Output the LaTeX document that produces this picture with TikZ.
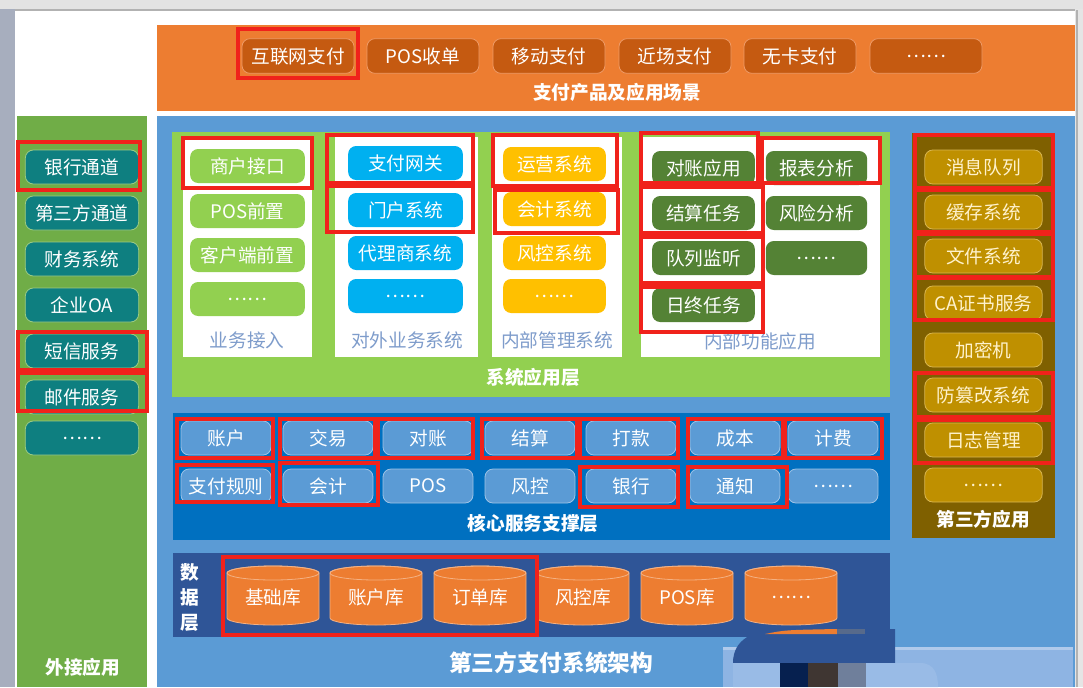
\documentclass[tikz,border=0pt]{standalone}
\usepackage{fontspec}
\setmainfont{Noto Sans CJK SC}
\usetikzlibrary{calc}
\definecolor{orgband}{HTML}{ED7D31}
\definecolor{orgbtn}{HTML}{C55A11}
\definecolor{orgbtnline}{HTML}{EE9A66}
\definecolor{extgreen}{HTML}{70AD47}
\definecolor{tealbtn}{HTML}{0E7F80}
\definecolor{tealline}{HTML}{9CCB84}
\definecolor{mainblue}{HTML}{5B9BD5}
\definecolor{sysgreen}{HTML}{92D050}
\definecolor{cyanbtn}{HTML}{00B0F0}
\definecolor{goldbtn}{HTML}{FFC000}
\definecolor{dgreenbtn}{HTML}{548235}
\definecolor{panellabel}{HTML}{7E9CCB}
\definecolor{coreband}{HTML}{0070C0}
\definecolor{corebtn}{HTML}{5B9BD5}
\definecolor{corebtnline}{HTML}{9DC3E6}
\definecolor{databand}{HTML}{2F5597}
\definecolor{cylfill}{HTML}{ED7D31}
\definecolor{cylline}{HTML}{F4B183}
\definecolor{thirdband}{HTML}{7F6000}
\definecolor{thirdbtn}{HTML}{BF9000}
\definecolor{thirdbtnline}{HTML}{D9B650}
\definecolor{thirdtext}{HTML}{FFF2CC}
\definecolor{hlred}{HTML}{F0221B}
\definecolor{edgegray}{HTML}{A7AEBE}
\definecolor{artlight}{HTML}{8EB4E3}
\definecolor{artdark}{HTML}{06204F}
\definecolor{artbrown}{HTML}{3F3632}
\definecolor{artgray}{HTML}{6F7F9B}
\tikzset{
  btn/.style={rounded corners=6pt, inner sep=0pt, minimum height=25.5pt,
    text=white, font=\fontsize{14}{16}\selectfont, line width=0.6pt},
  topbtn/.style={btn, fill=orgbtn, draw=orgbtnline, minimum width=84pt, minimum height=26pt},
  extbtn/.style={btn, fill=tealbtn, draw=tealline, minimum width=85pt},
  accbtn/.style={btn, fill=sysgreen, minimum width=86pt},
  outbtn/.style={btn, fill=cyanbtn, minimum width=86pt},
  mgmtbtn/.style={btn, fill=goldbtn, minimum width=77pt},
  funcbtn/.style={btn, fill=dgreenbtn, minimum width=77pt},
  corebtnst/.style={btn, fill=corebtn, draw=corebtnline, minimum width=67.5pt},
  thirdbtnst/.style={btn, fill=thirdbtn, draw=thirdbtnline, text=thirdtext, minimum width=88pt},
  hl/.style={draw=hlred, line width=2.8pt},
  layertitle/.style={text=white, font=\fontsize{14}{16}\selectfont\bfseries},
  panelname/.style={text=panellabel, font=\fontsize{14}{16}\selectfont},
  cyltext/.style={text=white, font=\fontsize{14}{16}\selectfont},
}
\newcommand{\dbcyl}[1]{%
  \fill[cylfill, draw=cylline, line width=0.6pt] (#1-46,573) -- (#1-46,618)
    arc[start angle=180, end angle=360, x radius=34.5pt, y radius=5.25pt]
    -- (#1+46,573)
    arc[start angle=0, end angle=180, x radius=34.5pt, y radius=5.25pt] -- cycle;
  \draw[cylline, line width=0.6pt] (#1,573) ellipse[x radius=34.5pt, y radius=5.25pt];
}
\begin{document}
\begin{tikzpicture}[x=0.75pt, y=-0.75pt]
\useasboundingbox (0,0) rectangle (1083,687);
% frame
\fill[white] (0,0) rectangle (1083,687);
\fill[gray!22] (0,0) rectangle (1083,9);
\draw[gray!60, line width=0.8pt] (15,10) -- (1077,10);
\fill[edgegray] (0,9) rectangle (15,687);
\fill[gray!20] (1075,9) rectangle (1083,687);
\draw[gray!60, line width=1pt] (1077,10) -- (1077,687);

% top band
\fill[orgband] (157,25) rectangle (1075,111);
\foreach \t/\x [count=\i] in {互联网支付/298, POS收单/423, 移动支付/549, 近场支付/675, 无卡支付/800, ……/926}
  \node[topbtn] (top\i) at (\x,56) {\t};
\node[layertitle] (toptitle) at (617,92) {支付产品及应用场景};

% left column
\fill[extgreen] (17,116) rectangle (147,687);
\foreach \t/\y [count=\i] in {银行通道/167, 第三方通道/213, 财务系统/259, 企业OA/305, 短信服务/351, 邮件服务/397, ……/438}
  \node[extbtn] (ext\i) at (82,\y) {\t};
\node[layertitle] (exttitle) at (83,667) {外接应用};

% main area
\fill[mainblue] (157,116) rectangle (1075,687);

% system application layer
\fill[sysgreen] (172,132) rectangle (890,397);
\fill[white] (183,137) rectangle (312,357);
\fill[white] (335,137) rectangle (478,357);
\fill[white] (492,137) rectangle (622,357);
\fill[white] (641,137) rectangle (880,357);
\foreach \t/\y [count=\i] in {商户接口/166, POS前置/211, 客户端前置/255, ……/299}
  \node[accbtn] (acc\i) at (247.5,\y) {\t};
\foreach \t/\y [count=\i] in {支付网关/163, 门户系统/210, 代理商系统/253, ……/296}
  \node[outbtn] (out\i) at (405.5,\y) {\t};
\foreach \t/\y [count=\i] in {运营系统/164, 会计系统/209, 风控系统/253, ……/296}
  \node[mgmtbtn] (mgmt\i) at (554.5,\y) {\t};
\foreach \t/\y [count=\i] in {对账应用/168, 结算任务/213, 队列监听/258, 日终任务/305}
  \node[funcbtn] (funa\i) at (703.5,\y) {\t};
\foreach \t/\y [count=\i] in {报表分析/168, 风险分析/213, ……/258}
  \node[funcbtn, minimum width=76pt] (funb\i) at (816.5,\y) {\t};
\node[panelname] (p1) at (247,340) {业务接入};
\node[panelname] (p2) at (407,340) {对外业务系统};
\node[panelname] (p3) at (557,340) {内部管理系统};
\node[panelname] (p4) at (760,341) {内部功能应用};
\node[layertitle] (systitle) at (533,377) {系统应用层};

% core service layer
\fill[coreband] (173,413) rectangle (890,540);
\foreach \t/\x [count=\i] in {账户/226, 交易/328, 对账/428, 结算/530, 打款/631, 成本/735, 计费/833}
  \node[corebtnst] (cra\i) at (\x,438) {\t};
\foreach \t/\x [count=\i] in {支付规则/226, 会计/328, POS/428, 风控/530, 银行/631, 通知/735, ……/833}
  \node[corebtnst] (crb\i) at (\x,486) {\t};
\node[layertitle] (coretitle) at (533,523) {核心服务支撑层};

% data layer
\fill[databand] (173,553) rectangle (890,637);
\node[text=white, align=center, font=\fontsize{14}{18.75}\selectfont\bfseries] (datatitle) at (190,597) {数\\据\\层};
\foreach \t/\x [count=\i] in {基础库/273, 账户库/376, 订单库/480, 风控库/583, POS库/687, ……/791} {
  \dbcyl{\x}
  \node[cyltext] (db\i) at (\x,597) {\t};
}

% third-party apps
\fill[thirdband] (912,133) rectangle (1055,538);
\foreach \t/\y [count=\i] in {消息队列/167, 缓存系统/212, 文件系统/256, CA证书服务/303, 加密机/350, 防篡改系统/395, 日志管理/440, ……/485}
  \node[thirdbtnst] (tp\i) at (983.5,\y) {\t};
\node[layertitle] (tptitle) at (983,519) {第三方应用};

% main title
\node[text=white, font=\fontsize{17}{19}\selectfont\bfseries] (maintitle) at (551,663) {第三方支付系统架构};

% blurred artefact at bottom right
\fill[artlight] (723,647) rectangle (1073,687);
\fill[artlight!70!white] (723,647) rectangle (1073,650);
\fill[databand] (733,663) .. controls (733,640) and (752,629) .. (785,629) -- (895,629) -- (895,663) -- cycle;
\fill[cylfill] (765,634) .. controls (785,630) .. (837,629) -- (837,634) -- cycle;
\fill[gray!50!databand] (837,629) rectangle (865,634);
\fill[artlight!90!white] (733,663) -- (920,663) .. controls (935,663) and (938,675) .. (938,687) -- (733,687) -- cycle;
\fill[artdark] (780,663) rectangle (808,687);
\fill[artbrown] (808,663) rectangle (838,687);
\fill[artgray] (838,663) rectangle (866,687);

% red highlight boxes
\draw[hl] (238,29) rectangle (358,78);
\draw[hl] (18,142) rectangle (140,190);
\draw[hl] (18,332) rectangle (147,370);
\draw[hl] (18,373) rectangle (147,411);
\draw[hl] (183,138) rectangle (312,188);
\draw[hl] (327,135) rectangle (473,183);
\draw[hl] (327,186) rectangle (473,232);
\draw[hl] (493,135) rectangle (617,186);
\draw[hl] (495,190) rectangle (618,233);
\draw[hl] (641,133) rectangle (758,183);
\draw[hl] (762,138) rectangle (880,183);
\draw[hl] (641,187) rectangle (763,233);
\draw[hl] (641,237) rectangle (763,283);
\draw[hl] (641,287) rectangle (763,332);
\draw[hl] (177,419) rectangle (273,458);
\draw[hl] (280,419) rectangle (375,458);
\draw[hl] (378,419) rectangle (473,458);
\draw[hl] (482,419) rectangle (577,458);
\draw[hl] (580,419) rectangle (678,458);
\draw[hl] (688,419) rectangle (783,458);
\draw[hl] (785,419) rectangle (882,458);
\draw[hl] (177,465) rectangle (273,502);
\draw[hl] (280,463) rectangle (378,505);
\draw[hl] (580,467) rectangle (678,507);
\draw[hl] (688,467) rectangle (787,507);
\draw[hl] (223,557) rectangle (537,635);
\draw[hl] (915,135) rectangle (1053,188);
\draw[hl] (915,190) rectangle (1053,232);
\draw[hl] (915,234) rectangle (1053,277);
\draw[hl] (915,278) rectangle (1053,320);
\draw[hl] (915,373) rectangle (1053,417);
\draw[hl] (915,420) rectangle (1053,463);
\end{tikzpicture}
\end{document}
